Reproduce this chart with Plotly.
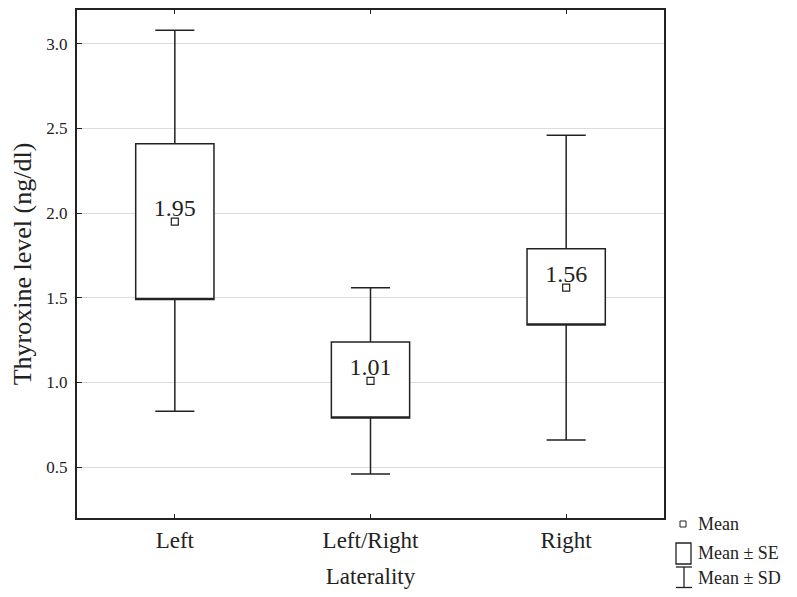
import plotly.graph_objects as go

categories = ["Left", "Left/Right", "Right"]
means = [1.95, 1.01, 1.56]
se_low = [1.49, 0.79, 1.34]
se_high = [2.41, 1.24, 1.79]
sd_low = [0.83, 0.46, 0.66]
sd_high = [3.08, 1.56, 2.46]
mean_labels = ["1.95", "1.01", "1.56"]

FONT = "Liberation Serif"
INK = "#222"
# figure is drawn inside an 8px page margin -> offsets below are page coords minus 8
W, H = 781, 581
PL, PT, PR, PB = 69, 2, 656, 510  # plot area in figure coords
PW, PH = PR - PL, PB - PT

fig = go.Figure()

fig.add_trace(go.Box(
    x=categories, q1=se_low, median=se_low, q3=se_high,
    lowerfence=sd_low, upperfence=sd_high,
    width=0.4, whiskerwidth=0.5,
    fillcolor="white", line=dict(color=INK, width=1.5),
    boxpoints=False, showlegend=False, hoverinfo="skip",
))

fig.add_trace(go.Scatter(
    x=categories, y=means, mode="markers",
    marker=dict(symbol="square-open", size=7, color=INK, line=dict(width=1.2)),
    showlegend=False, hoverinfo="skip",
))

fig.add_trace(go.Scatter(
    x=categories, y=means, mode="text",
    text=mean_labels, textposition="top center",
    textfont=dict(family=FONT, size=24, color=INK),
    showlegend=False, hoverinfo="skip",
))

fig.update_layout(
    width=W, height=H,
    margin=dict(l=PL, r=W - PR, t=PT, b=H - PB, autoexpand=False),
    plot_bgcolor="white", paper_bgcolor="white",
    font=dict(family=FONT, size=18, color=INK),
    xaxis=dict(
        range=[-0.5, 2.5], showline=True, linecolor=INK, linewidth=2, mirror="ticks",
        ticks="inside", ticklen=4, tickcolor=INK, showgrid=False,
        title=dict(text="Laterality", font=dict(size=23), standoff=18),
        tickfont=dict(size=23),
    ),
    yaxis=dict(
        range=[0.2, 3.2], dtick=0.5, tickformat=".1f", showline=True, linecolor=INK,
        linewidth=2, mirror=True, ticks="inside", ticklen=5, tickcolor=INK,
        showgrid=True, gridcolor="#dcdcdc", zeroline=False,
        title=dict(text="Thyroxine level (ng/dl)", font=dict(size=26), standoff=8),
        tickfont=dict(size=17), ticklabelstandoff=4,
    ),
)


def px(xp):
    return (xp - 8 - PL) / PW


def py(yp):
    return (PB - (yp - 8)) / PH


# custom legend (bottom right, outside the plot), page coords
fig.add_shape(type="rect", xref="paper", yref="paper",
              x0=px(680), x1=px(686), y0=py(527), y1=py(521),
              line=dict(color=INK, width=1))
fig.add_shape(type="rect", xref="paper", yref="paper",
              x0=px(676), x1=px(691), y0=py(564), y1=py(543),
              line=dict(color=INK, width=1.3))
for (xa, ya, xb, yb) in [(684, 567, 684, 587.5), (676, 567, 692, 567), (676, 587.5, 692, 587.5)]:
    fig.add_shape(type="line", xref="paper", yref="paper",
                  x0=px(xa), x1=px(xb), y0=py(ya), y1=py(yb),
                  line=dict(color=INK, width=1.3))
for txt, yy in [("Mean", 524), ("Mean ± SE", 553), ("Mean ± SD", 578)]:
    fig.add_annotation(text=txt, xref="paper", yref="paper",
                       x=px(696), y=py(yy),
                       xanchor="left", yanchor="middle", showarrow=False,
                       font=dict(family=FONT, size=18, color=INK))

fig.write_html("out.html")
